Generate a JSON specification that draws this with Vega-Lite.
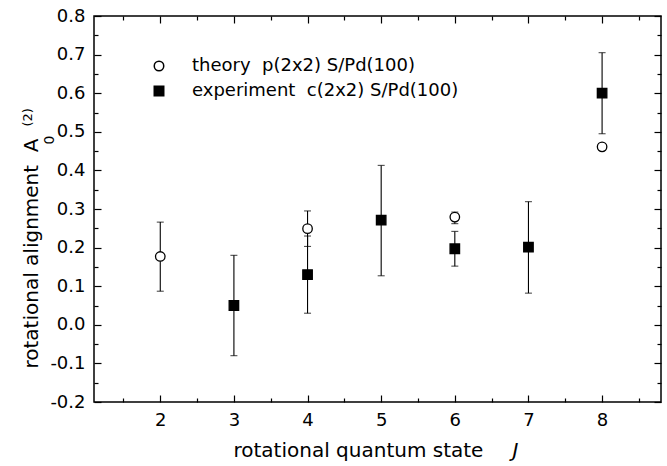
{
  "$schema": "https://vega.github.io/schema/vega-lite/v6.json",
  "autosize": {"type": "none"},
  "padding": {"left": 94, "top": 16, "right": 6, "bottom": 64},
  "width": 567,
  "height": 386,
  "background": "white",
  "config": {
    "font": "DejaVu Sans",
    "view": {"stroke": "black", "strokeWidth": 1.5},
    "axis": {"grid": false, "domain": false, "tickColor": "black", "labelColor": "black", "titleColor": "black", "labelFont": "DejaVu Sans", "titleFont": "DejaVu Sans", "labelFontSize": 18, "titleFontSize": 20, "titleFontWeight": "normal", "tickWidth": 1.2}
  },
  "datasets": {
    "pts": [
      {"J": 2, "series": "theory\u00a0\u00a0p(2x2) S/Pd(100)", "A": 0.177, "lo": 0.087, "hi": 0.266},
      {"J": 4, "series": "theory\u00a0\u00a0p(2x2) S/Pd(100)", "A": 0.249, "lo": 0.203, "hi": 0.295},
      {"J": 6, "series": "theory\u00a0\u00a0p(2x2) S/Pd(100)", "A": 0.279, "lo": 0.262, "hi": 0.292},
      {"J": 8, "series": "theory\u00a0\u00a0p(2x2) S/Pd(100)", "A": 0.461, "lo": null, "hi": null},
      {"J": 3, "series": "experiment\u00a0\u00a0c(2x2) S/Pd(100)", "A": 0.05, "lo": -0.08, "hi": 0.18},
      {"J": 4, "series": "experiment\u00a0\u00a0c(2x2) S/Pd(100)", "A": 0.13, "lo": 0.03, "hi": 0.23},
      {"J": 5, "series": "experiment\u00a0\u00a0c(2x2) S/Pd(100)", "A": 0.271, "lo": 0.127, "hi": 0.413},
      {"J": 6, "series": "experiment\u00a0\u00a0c(2x2) S/Pd(100)", "A": 0.197, "lo": 0.152, "hi": 0.242},
      {"J": 7, "series": "experiment\u00a0\u00a0c(2x2) S/Pd(100)", "A": 0.201, "lo": 0.082, "hi": 0.319},
      {"J": 8, "series": "experiment\u00a0\u00a0c(2x2) S/Pd(100)", "A": 0.6, "lo": 0.495, "hi": 0.705}
    ]
  },
  "resolve": {"axis": {"x": "independent", "y": "independent"}},
  "layer": [
    {
      "data": {"name": "pts"},
      "mark": {"type": "rule", "color": "black", "strokeWidth": 1.1},
      "encoding": {
        "x": {"field": "J", "type": "quantitative", "scale": {"domain": [1.1, 8.8], "nice": false, "zero": false},
              "axis": {"orient": "bottom", "values": [2, 3, 4, 5, 6, 7, 8], "tickSize": -7, "labelPadding": 16, "title": "rotational quantum state", "titleX": 139, "titleY": 54, "titleAlign": "left", "titleBaseline": "alphabetic", "titleAnchor": null}},
        "y": {"field": "lo", "type": "quantitative", "scale": {"domain": [-0.2, 0.8], "nice": false, "zero": false},
              "axis": {"orient": "left", "values": [-0.2, -0.1, 0, 0.1, 0.2, 0.3, 0.4, 0.5, 0.6, 0.7, 0.8], "format": ".1f", "labelExpr": "replace(datum.label, '\u2212', '-')", "tickSize": -7, "labelPadding": 16, "title": "rotational alignment\u00a0\u00a0A", "titleAngle": -90, "titleX": -57, "titleY": 352, "titleAlign": "left", "titleBaseline": "alphabetic", "titleAnchor": null}},
        "y2": {"field": "hi"}
      }
    },
    {
      "data": {"name": "pts"},
      "mark": {"type": "tick", "color": "black", "orient": "horizontal", "size": 7, "thickness": 1.1},
      "encoding": {
        "x": {"field": "J", "type": "quantitative", "axis": {"orient": "top", "values": [2, 3, 4, 5, 6, 7, 8], "labels": false, "tickSize": -7, "title": null}},
        "y": {"field": "lo", "type": "quantitative", "axis": {"orient": "right", "values": [-0.2, -0.1, 0, 0.1, 0.2, 0.3, 0.4, 0.5, 0.6, 0.7, 0.8], "labels": false, "tickSize": -7, "title": "(2)", "titleFontSize": 13, "titleAngle": -90, "titleX": -630, "titleY": 110, "titleAlign": "left", "titleBaseline": "alphabetic", "titleAnchor": null}}
      }
    },
    {
      "data": {"name": "pts"},
      "mark": {"type": "tick", "color": "black", "orient": "horizontal", "size": 7, "thickness": 1.1},
      "encoding": {
        "x": {"field": "J", "type": "quantitative", "axis": {"orient": "bottom", "values": [1.5, 2.5, 3.5, 4.5, 5.5, 6.5, 7.5, 8.5], "labels": false, "tickSize": -4, "title": "J", "titleFontStyle": "italic", "titleX": 418, "titleY": 54, "titleAlign": "left", "titleBaseline": "alphabetic", "titleAnchor": null}},
        "y": {"field": "hi", "type": "quantitative", "axis": {"orient": "left", "values": [-0.15, -0.05, 0.05, 0.15, 0.25, 0.35, 0.45, 0.55, 0.65, 0.75], "labels": false, "tickSize": -4, "title": "0", "titleFontSize": 14, "titleAngle": -90, "titleX": -41, "titleY": 128, "titleAlign": "left", "titleBaseline": "alphabetic", "titleAnchor": null}}
      }
    },
    {
      "mark": {"type": "rule", "color": "black", "strokeWidth": 2.2},
      "encoding": {"y": {"datum": 0, "type": "quantitative", "axis": null}}
    },
    {
      "data": {"name": "pts"},
      "mark": {"type": "point", "stroke": "black", "strokeWidth": 1.3, "opacity": 1, "size": 90},
      "encoding": {
        "x": {"field": "J", "type": "quantitative", "axis": {"orient": "top", "values": [1.5, 2.5, 3.5, 4.5, 5.5, 6.5, 7.5, 8.5], "labels": false, "tickSize": -4, "title": null}},
        "y": {"field": "A", "type": "quantitative", "axis": {"orient": "right", "values": [-0.15, -0.05, 0.05, 0.15, 0.25, 0.35, 0.45, 0.55, 0.65, 0.75], "labels": false, "tickSize": -4, "title": null}},
        "shape": {"field": "series", "type": "nominal", "scale": {"domain": ["theory\u00a0\u00a0p(2x2) S/Pd(100)", "experiment\u00a0\u00a0c(2x2) S/Pd(100)"], "range": ["circle", "square"]},
                  "legend": {"orient": "none", "legendX": 56, "legendY": 41, "title": null, "labelFontSize": 18, "labelFont": "DejaVu Sans", "labelColor": "black", "labelLimit": 0, "labelOffset": 24, "rowPadding": 7, "padding": 0, "symbolSize": 90,
                             "encode": {"symbols": {"enter": {"stroke": {"value": "black"}, "strokeWidth": {"value": 1.3}, "opacity": {"value": 1}}, "update": {"stroke": {"value": "black"}, "strokeWidth": {"value": 1.3}, "opacity": {"value": 1}, "fill": [{"test": "indexof(datum.value, 'experiment') >= 0", "value": "black"}, {"value": "white"}]}}}}},
        "fill": {"field": "series", "type": "nominal", "scale": {"domain": ["theory\u00a0\u00a0p(2x2) S/Pd(100)", "experiment\u00a0\u00a0c(2x2) S/Pd(100)"], "range": ["white", "black"]}, "legend": null}
      }
    }
  ]
}
